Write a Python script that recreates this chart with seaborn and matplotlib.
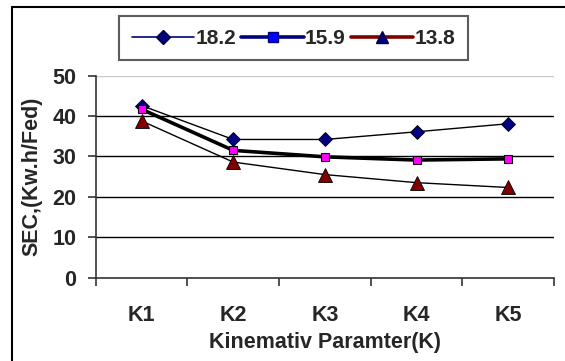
import matplotlib
matplotlib.use("Agg")
import matplotlib.pyplot as plt
from matplotlib.lines import Line2D
import seaborn as sns
import numpy as np

# data
categories = ['K1', 'K2', 'K3', 'K4', 'K5']
sec_182 = [42.6, 34.2, 34.2, 36.1, 38.1]
sec_159 = [41.7, 31.5, 29.9, 29.1, 29.4]
sec_138 = [38.8, 28.6, 25.5, 23.5, 22.3]
series_names = ['18.2', '15.9', '13.8']
y_ticks = [0, 10, 20, 30, 40, 50]

sns.set_style("white")
plt.rcParams['font.family'] = ['Liberation Sans', 'DejaVu Sans']
plt.rcParams['font.weight'] = 'bold'

fig = plt.figure(figsize=(5.65, 3.61), dpi=100)
ax = fig.add_axes([0.1694, 0.2313, 0.8111, 0.559])

xpos = np.arange(len(categories))

# horizontal grid lines
for v in y_ticks[1:-1]:
    ax.axhline(v, color='black', lw=1.0, zorder=1)
ax.axhline(y_ticks[-1], color='#c8c8c8', lw=1.0, zorder=1)

sns.lineplot(x=xpos, y=sec_182, ax=ax, color='black', lw=1.0, marker='D',
             markersize=7.5, markerfacecolor='#000080', markeredgecolor='black',
             markeredgewidth=0.6, zorder=3)
sns.lineplot(x=xpos, y=sec_159, ax=ax, color='black', lw=2.6, marker='s',
             markersize=6, markerfacecolor='#ff00ff', markeredgecolor='black',
             markeredgewidth=0.8, zorder=4)
sns.lineplot(x=xpos, y=sec_138, ax=ax, color='black', lw=1.0, marker='^',
             markersize=10, markerfacecolor='#800000', markeredgecolor='black',
             markeredgewidth=0.6, zorder=3)

ax.set_xlim(-0.5, len(categories) - 0.5)
ax.set_ylim(0, 50)
ax.set_yticks(y_ticks)
ax.set_yticklabels([str(t) for t in y_ticks], fontsize=15.5, fontweight='bold')

# ticks between categories, labels in the middle
ax.set_xticks(np.arange(-0.5, len(categories)))
ax.set_xticklabels([])
ax.set_xticks(xpos, minor=True)
ax.set_xticklabels(categories, minor=True, fontsize=15.5, fontweight='bold')
ax.tick_params(axis='x', which='major', direction='out', length=6, width=1.2,
               color='#333333', bottom=True)
ax.tick_params(axis='x', which='minor', length=0, pad=20)
ax.tick_params(axis='y', direction='out', length=6, width=1.2, color='#333333',
               left=True, pad=8)

for side in ['top', 'right']:
    ax.spines[side].set_visible(False)
for side in ['left', 'bottom']:
    ax.spines[side].set_color('#333333')
    ax.spines[side].set_linewidth(1.2)

ax.set_xlabel('Kinemativ Paramter(K)', fontsize=15.5, fontweight='bold', labelpad=4)
ax.set_ylabel('SEC,(Kw.h/Fed)', fontsize=15.5, fontweight='bold', labelpad=7)

handles = [
    Line2D([], [], color='#000080', lw=1.2, marker='D', markersize=7,
           markerfacecolor='#000080', markeredgecolor='#000040'),
    Line2D([], [], color='#000080', lw=2.6, marker='s', markersize=7,
           markerfacecolor='#0000ff', markeredgecolor='#000080'),
    Line2D([], [], color='#800000', lw=2.6, marker='^', markersize=8,
           markerfacecolor='#000080', markeredgecolor='#000040'),
]
leg = fig.legend(handles, series_names, loc='center', bbox_to_anchor=(0.5195, 0.8934),
                 ncol=3, frameon=True, fancybox=False,
                 handlelength=3.0, handletextpad=0.05, columnspacing=0.25,
                 borderpad=0.6, borderaxespad=0,
                 prop={'weight': 'bold', 'size': 15})
leg.get_frame().set_edgecolor('#333333')
leg.get_frame().set_linewidth(1.5)

# outer chart border (top and left edges visible)
fig.add_artist(Line2D([0.0212, 1.0], [0.98, 0.98], color='black', lw=1.5,
                      transform=fig.transFigure))
fig.add_artist(Line2D([0.0212, 0.0212], [0.0, 0.98], color='black', lw=1.5,
                      transform=fig.transFigure))

fig.savefig('out.png', dpi=100)
